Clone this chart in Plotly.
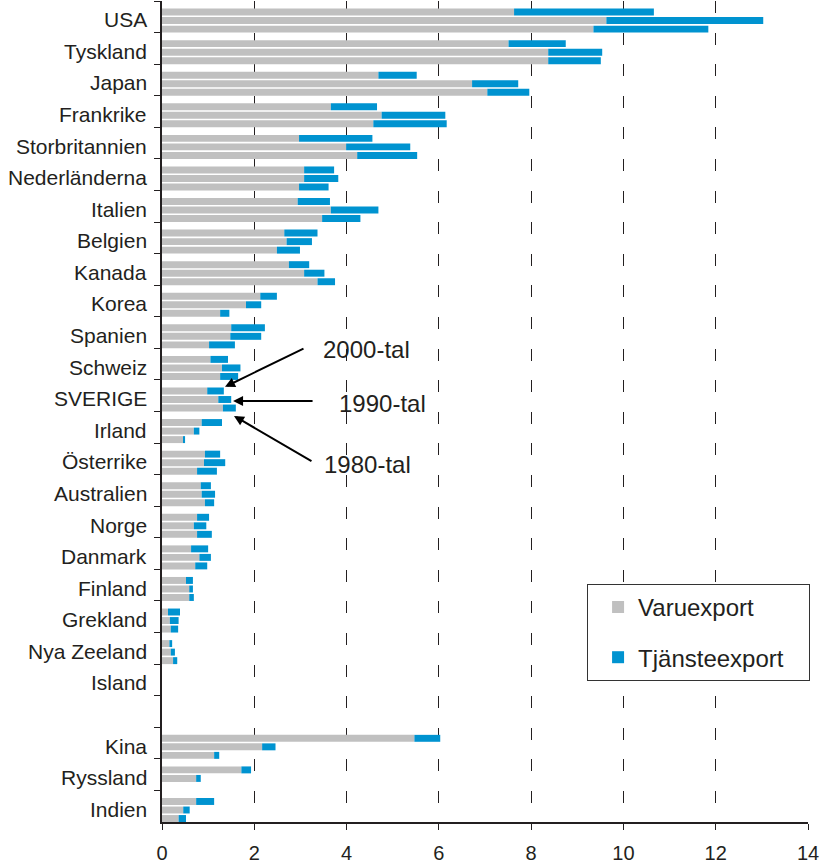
import plotly.graph_objects as go

countries = ["USA", "Tyskland", "Japan", "Frankrike", "Storbritannien", "Nederländerna",
             "Italien", "Belgien", "Kanada", "Korea", "Spanien", "Schweiz", "SVERIGE",
             "Irland", "Österrike", "Australien", "Norge", "Danmark", "Finland",
             "Grekland", "Nya Zeeland", "Island", " ", "Kina", "Ryssland", "Indien"]

# Varuexport (goods) per decade
varu_2000 = [7.63, 7.51, 4.69, 3.66, 2.97, 3.08, 2.94, 2.65, 2.75, 2.13, 1.50, 1.05, 0.98,
             0.86, 0.93, 0.84, 0.76, 0.63, 0.52, 0.13, 0.16, 0, None, 5.47, 1.72, 0.74]
varu_1990 = [9.63, 8.37, 6.72, 4.76, 3.99, 3.08, 3.66, 2.70, 3.08, 1.82, 1.48, 1.30, 1.22,
             0.69, 0.91, 0.86, 0.69, 0.81, 0.59, 0.17, 0.19, 0, None, 2.17, 0.74, 0.46]
varu_1980 = [9.35, 8.37, 7.05, 4.58, 4.23, 2.97, 3.47, 2.49, 3.37, 1.26, 1.02, 1.26, 1.32,
             0.46, 0.76, 0.93, 0.76, 0.72, 0.59, 0.19, 0.24, 0, None, 1.13, 0, 0.36]

# Tjänsteexport (services) per decade
tjanst_2000 = [3.03, 1.24, 0.83, 1.00, 1.59, 0.65, 0.70, 0.72, 0.44, 0.36, 0.73, 0.38, 0.36,
               0.44, 0.33, 0.22, 0.26, 0.37, 0.15, 0.26, 0.06, 0, None, 0.56, 0.21, 0.39]
tjanst_1990 = [3.40, 1.17, 1.00, 1.38, 1.39, 0.74, 1.03, 0.55, 0.44, 0.33, 0.67, 0.40, 0.28,
               0.12, 0.46, 0.29, 0.27, 0.25, 0.08, 0.19, 0.09, 0, None, 0.29, 0.10, 0.14]
tjanst_1980 = [2.49, 1.14, 0.91, 1.59, 1.30, 0.64, 0.83, 0.50, 0.38, 0.20, 0.56, 0.39, 0.28,
               0.04, 0.43, 0.20, 0.32, 0.26, 0.10, 0.16, 0.09, 0, None, 0.11, 0, 0.16]

x_ticks = [0, 2, 4, 6, 8, 10, 12, 14]

GREY = "#C0C0C0"
BLUE = "#0093D0"
TEXT = "#231F20"
FONT = "Liberation Sans, Arial, sans-serif"

decades = [
    ("2000", varu_2000, tjanst_2000, -0.26),
    ("1990", varu_1990, tjanst_1990, 0.01),
    ("1980", varu_1980, tjanst_1980, 0.28),
]
BAR_W = 0.22
PAD = "\u00a0\u00a0\u00a0"

fig = go.Figure()
for i, (dec, varu, tjanst, off) in enumerate(decades):
    fig.add_trace(go.Bar(
        y=countries, x=varu, orientation="h", offset=off, width=BAR_W,
        marker=dict(color=GREY, line=dict(width=0)),
        name="Varuexport", legendgroup="varu", showlegend=(i == 0),
    ))
    fig.add_trace(go.Bar(
        y=countries, x=tjanst, base=varu, orientation="h", offset=off, width=BAR_W,
        marker=dict(color=BLUE, line=dict(width=0)),
        name="Tjänsteexport" + PAD, legendgroup="tjanst", showlegend=(i == 0),
    ))

fig.update_layout(
    width=822, height=862,
    margin=dict(l=162, r=14, t=1, b=40, autoexpand=False),
    paper_bgcolor="white", plot_bgcolor="white",
    barmode="overlay",
    font=dict(family=FONT, color=TEXT, size=21),
    showlegend=True,
    legend=dict(
        x=0.658, y=0.29, xanchor="left", yanchor="top",
        bordercolor="#333333", borderwidth=1, bgcolor="white",
        font=dict(size=24, color=TEXT, family=FONT),
        traceorder="grouped", tracegroupgap=16, indentation=10,
    ),
    xaxis=dict(
        range=[0, 14], tickvals=x_ticks, ticktext=[str(v) for v in x_ticks],
        showgrid=True, gridcolor=TEXT, gridwidth=1, griddash="12px,19.6px",
        showline=True, linecolor=TEXT, linewidth=1.5, zeroline=False,
        ticks="outside", ticklen=6, tickcolor=TEXT, tickwidth=1.2,
        ticklabelstandoff=6, automargin=False,
        tickfont=dict(size=20, color=TEXT, family=FONT),
    ),
    yaxis=dict(
        type="category", categoryorder="array", categoryarray=countries,
        range=[25.5, -0.5], tickson="boundaries",
        ticks="outside", ticklen=6, tickcolor=TEXT, tickwidth=1.2,
        showline=True, linecolor=TEXT, linewidth=1.5, showgrid=False, zeroline=False,
        showticklabels=False, automargin=False,
    ),
)

# Category labels, placed at each category (slightly below centre as in the original)
for idx, name in enumerate(countries):
    if name.strip():
        fig.add_annotation(x=0, y=idx, xref="paper", yref="y", text=name,
                           showarrow=False, xanchor="right", yanchor="middle",
                           xshift=-13, yshift=-3,
                           font=dict(size=21, color=TEXT, family=FONT))

# Arrows (head at bar ends of SVERIGE, tail offset in pixels)
arrows = [(1.365, 11.72, 80, -39), (1.54, 12.17, 81, 0), (1.56, 12.64, 79, 46)]
for hx, hy, ax, ay in arrows:
    fig.add_annotation(x=hx, y=hy, xref="x", yref="y", ax=ax, ay=ay,
                       showarrow=True, arrowhead=2, arrowsize=1, arrowwidth=2,
                       arrowcolor="black", text="")

labels = [("2000-tal", 3.45, 10.55), ("1990-tal", 3.79, 12.26), ("1980-tal", 3.47, 14.19)]
for txt, lx, ly in labels:
    fig.add_annotation(x=lx, y=ly, xref="x", yref="y", text=txt, showarrow=False,
                       xanchor="left", yanchor="middle",
                       font=dict(size=24, color=TEXT, family=FONT))

fig.write_html("out.html", config={"displayModeBar": False},
               post_script="document.body.style.margin='0';")
